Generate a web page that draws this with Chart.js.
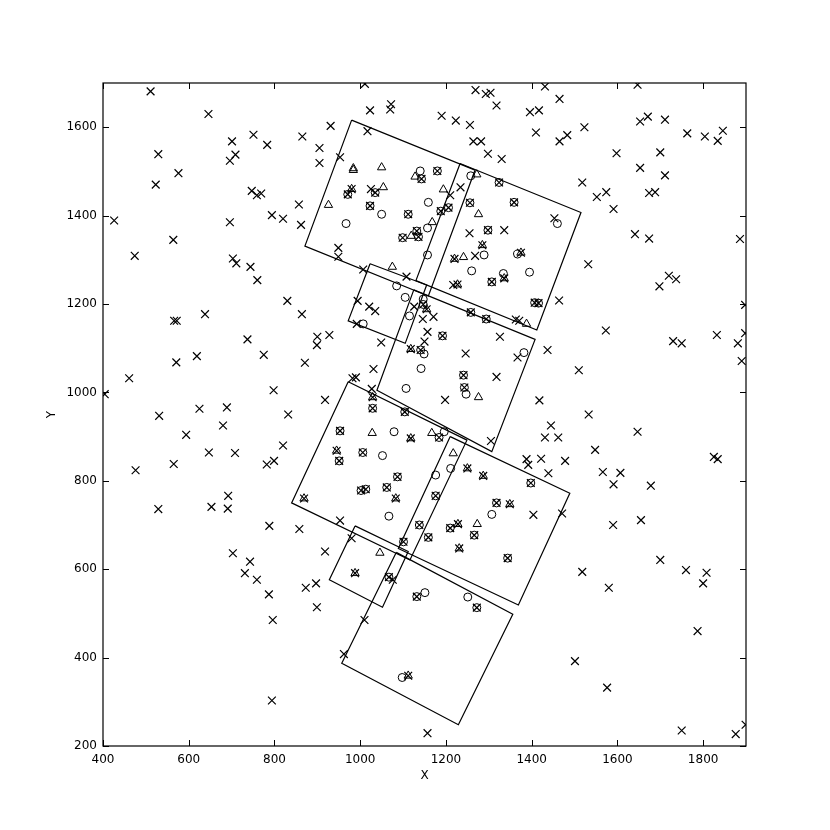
<!DOCTYPE html>
<html>
<head>
<meta charset="utf-8">
<script src="https://cdn.jsdelivr.net/npm/chart.js@4.4.0/dist/chart.umd.min.js"></script>
<style>
  html, body { margin: 0; padding: 0; background: #fff; }
  #wrap { width: 830px; height: 830px; }
</style>
</head>
<body>
<div id="wrap"><canvas id="chart" width="830" height="830"></canvas></div>
<script>
// axis ticks
const xTicks = [400, 600, 800, 1000, 1200, 1400, 1600, 1800];
const yTicks = [200, 400, 600, 800, 1000, 1200, 1400, 1600];

// footprints (corners, data units)
const rectUL  = [[980, 1616], [871, 1331], [1159, 1218], [1268, 1503]];
const rectUR  = [[1233, 1518], [1515, 1407], [1412, 1141], [1130, 1253]];
const rectLR  = [[1125, 1232], [1408, 1120], [1307, 866], [1039, 1005]];
const rectSS1 = [[1023, 1291], [972, 1162], [1105, 1111], [1155, 1243]];
const rectL2  = [[972, 1024], [840, 750], [1116, 621], [1249, 892]];
const rectR2  = [[1210, 900], [1489, 772], [1369, 519], [1089, 647]];
const rectLR2 = [[1084, 638], [1356, 498], [1229, 248], [957, 387]];
const rectSS2 = [[988, 698], [928, 576], [1052, 514], [1112, 640]];

// x markers
const crossPts = [
  [511,1681],[646,1630],[751,1583],[701,1568],[783,1560],[865,1579],[905,1553],[905,1519],[529,1539],[709,1538],
  [696,1524],[576,1496],[523,1470],[747,1456],[759,1446],[769,1450],[857,1425],[426,1389],[696,1385],[794,1401],
  [820,1393],[862,1379],[564,1345],[474,1309],[703,1303],[711,1292],[744,1284],[760,1254],[830,1207],
  [1011,1698],[1269,1684],[1293,1675],[1304,1678],[1318,1649],[1023,1638],[1072,1652],[1070,1640],[1190,1626],
  [1223,1615],[1256,1605],[931,1603],[1017,1591],[1264,1568],[1282,1568],[1298,1540],[1330,1528],[953,1532],
  [1431,1692],[1465,1664],[1396,1634],[1417,1638],[1410,1588],[1465,1568],[1483,1582],[1523,1600],[1647,1696],
  [1653,1613],[1671,1624],[1711,1617],[1763,1586],[1804,1579],[1834,1569],[1846,1592],[1598,1541],[1700,1543],
  [1653,1508],[1711,1491],[1518,1475],[1552,1442],[1574,1453],[1591,1415],[1674,1451],[1688,1453],[1453,1394],
  [1641,1358],[1674,1348],[1886,1347],[1532,1290],[1698,1240],[1720,1264],[1737,1256],[1898,1198],[1464,1208],
  [864,1177],[566,1162],[572,1162],[638,1177],[737,1120],[900,1126],[899,1107],[775,1085],[619,1082],[571,1068],
  [871,1067],[461,1032],[404,996],[798,1005],[531,947],[625,963],[689,966],[832,950],[680,925],[594,904],
  [647,864],[708,863],[820,880],[782,837],[799,845],[476,824],[565,838],[692,766],[529,736],[653,741],
  [691,737],[788,698],[858,691],
  [703,636],[743,617],[731,591],[759,576],[787,543],[796,485],[794,303],[873,558],[897,568],[899,514],
  [918,640],[980,670],[1076,576],[1010,485],[962,408],[1157,229],
  [1590,700],[1655,711],[1700,621],[1518,594],[1580,558],[1760,598],[1808,592],[1800,568],[1787,460],[1501,392],
  [1576,332],[1750,235],[1876,227],[1899,248],
  [1573,1140],[1730,1116],[1750,1111],[1832,1130],[1881,1111],[1898,1134],[1890,1071],[1437,1096],[1510,1050],
  [1418,982],[1533,950],[1445,925],[1431,898],[1462,898],[1647,911],[1548,870],[1388,849],[1392,836],[1422,850],
  [1478,845],[1439,817],[1566,820],[1607,818],[1591,792],[1678,789],[1825,854],[1834,849],[1404,723],[1471,726],
  [928,1130],[918,983],[1049,1113],[1031,1053],[982,1032],[990,1034],[1027,1008],[994,1207],[1021,1194],
  [1035,1184],[992,1155],[1126,1194],
  [1025,1460],[1210,1446],[1234,1464],[949,1327],[949,1307],[1007,1278],[1108,1262],[1146,1166],[1171,1171],
  [1157,1137],[1150,1115],[1305,890],[1336,1367],[1255,1360],[1268,1309],[1217,1243],[1363,1165],[1371,1162],
  [1326,1126],[1246,1088],[1367,1079],[1318,1035],[1198,983],[953,710]
];

// open circles
const circlePts = [
  [1460,1382],[1395,1272],[1007,1155],[1115,1173],[1151,547],[1251,537],[1098,355],[1140,1501],[1050,1403],
  [967,1382],[1159,1430],[1157,1372],[1157,1311],[1085,1241],[1105,1215],[1147,1211],[1149,1087],[1142,1054],
  [1107,1009],[1079,911],[1196,911],[1052,857],[1258,1490],[1289,1311],[1367,1313],[1260,1275],[1334,1269],
  [1382,1090],[1247,996],[1067,720],[1176,813],[1211,828],[1307,724]
];

// circle + x at the same place
const circleCrossPts = [
  [1407,1203],[1416,1202],[1398,795],[1101,662],[1067,582],[1132,538],[1272,513],[1138,700],[1159,672],
  [1210,693],[1266,677],[1344,625],[1147,1199],[1143,1483],[1180,1501],[971,1448],[1035,1452],[1023,1422],
  [1112,1403],[1188,1410],[1206,1418],[1132,1365],[1099,1350],[1136,1352],[1192,1128],[1141,1096],[1029,964],
  [1104,956],[953,913],[1184,898],[1006,864],[1324,1475],[1256,1429],[1359,1430],[1298,1367],[1307,1250],
  [1258,1181],[1294,1166],[1241,1039],[1243,1011],[951,845],[1087,809],[1002,778],[1013,781],[1062,785],
  [1176,766],[1318,750]
];

// open triangles
const trianglePts = [
  [1046,637],[1273,702],[984,1507],[984,1503],[1050,1509],[1128,1488],[1054,1464],[926,1424],[1194,1459],
  [1168,1385],[1119,1354],[1075,1284],[1028,908],[1167,908],[1217,862],[1272,1493],[1276,1403],[1241,1306],
  [1388,1155],[1276,989]
];

// triangle + x at the same place
const triangleCrossPts = [
  [869,760],[988,591],[1112,359],[1228,702],[1231,647],[980,1460],[1155,1188],[1118,1098],[1029,989],
  [1118,896],[945,868],[1285,1333],[1220,1302],[1375,1316],[1336,1258],[1227,1244],[1083,760],[1250,828],
  [1287,811],[1349,747]
];

const toXY = arr => arr.map(p => ({x: p[0], y: p[1]}));
const closed = arr => toXY(arr.concat([arr[0]]));

function rectSet(corners) {
  return {
    data: closed(corners),
    showLine: true,
    borderColor: '#000',
    borderWidth: 1.2,
    pointRadius: 0,
    fill: false,
    tension: 0
  };
}

// inward ticks on all four sides plus the frame
const frameTicks = {
  id: 'frameTicks',
  afterDatasetsDraw(chart) {
    const {ctx, chartArea: a, scales: {x, y}} = chart;
    ctx.save();
    ctx.strokeStyle = '#000';
    ctx.lineWidth = 1;
    ctx.beginPath();
    xTicks.forEach(v => {
      const px = Math.round(x.getPixelForValue(v)) + 0.5;
      ctx.moveTo(px, a.bottom); ctx.lineTo(px, a.bottom - 6);
      ctx.moveTo(px, a.top); ctx.lineTo(px, a.top + 6);
    });
    yTicks.forEach(v => {
      const py = Math.round(y.getPixelForValue(v)) + 0.5;
      ctx.moveTo(a.left, py); ctx.lineTo(a.left + 6, py);
      ctx.moveTo(a.right, py); ctx.lineTo(a.right - 6, py);
    });
    ctx.stroke();
    ctx.lineWidth = 1.2;
    ctx.strokeRect(a.left, a.top, a.right - a.left, a.bottom - a.top);
    ctx.restore();
  }
};

const font = {family: 'DejaVu Sans', size: 12};
const plain = v => String(v);

new Chart(document.getElementById('chart').getContext('2d'), {
  type: 'scatter',
  data: {
    datasets: [
      rectSet(rectUL), rectSet(rectUR), rectSet(rectLR), rectSet(rectSS1),
      rectSet(rectL2), rectSet(rectR2), rectSet(rectLR2), rectSet(rectSS2),
      {
        data: toXY(crossPts.concat(circleCrossPts, triangleCrossPts)),
        pointStyle: 'crossRot',
        pointRadius: 5.5,
        borderColor: '#000',
        borderWidth: 1.2,
        clip: 0
      },
      {
        data: toXY(circlePts.concat(circleCrossPts)),
        pointStyle: 'circle',
        pointRadius: 4,
        borderColor: '#000',
        backgroundColor: 'rgba(0,0,0,0)',
        borderWidth: 1,
        clip: 0
      },
      {
        data: toXY(trianglePts.concat(triangleCrossPts)),
        pointStyle: 'triangle',
        pointRadius: 4.8,
        borderColor: '#000',
        backgroundColor: 'rgba(0,0,0,0)',
        borderWidth: 1,
        clip: 0
      }
    ]
  },
  options: {
    responsive: false,
    animation: false,
    events: [],
    layout: { padding: { top: 83, right: 84, left: 0, bottom: 0 } },
    plugins: { legend: { display: false }, tooltip: { enabled: false } },
    scales: {
      x: {
        type: 'linear',
        min: 400,
        max: 1900,
        afterBuildTicks: s => { s.ticks = xTicks.map(v => ({value: v})); },
        afterFit: s => { s.height = 84; },
        grid: { display: false, drawTicks: false },
        border: { display: false },
        ticks: { color: '#000', font: font, padding: 7, maxRotation: 0, callback: plain },
        title: { display: true, text: 'X', color: '#000', font: font, padding: { top: 0, bottom: 47 } }
      },
      y: {
        type: 'linear',
        min: 200,
        max: 1700,
        afterBuildTicks: s => { s.ticks = yTicks.map(v => ({value: v})); },
        afterFit: s => { s.width = 103; },
        grid: { display: false, drawTicks: false },
        border: { display: false },
        ticks: { color: '#000', font: font, padding: 6, callback: plain },
        title: { display: true, text: 'Y', color: '#000', font: font, padding: { top: 45, bottom: 0 } }
      }
    }
  },
  plugins: [frameTicks]
});
</script>
</body>
</html>
